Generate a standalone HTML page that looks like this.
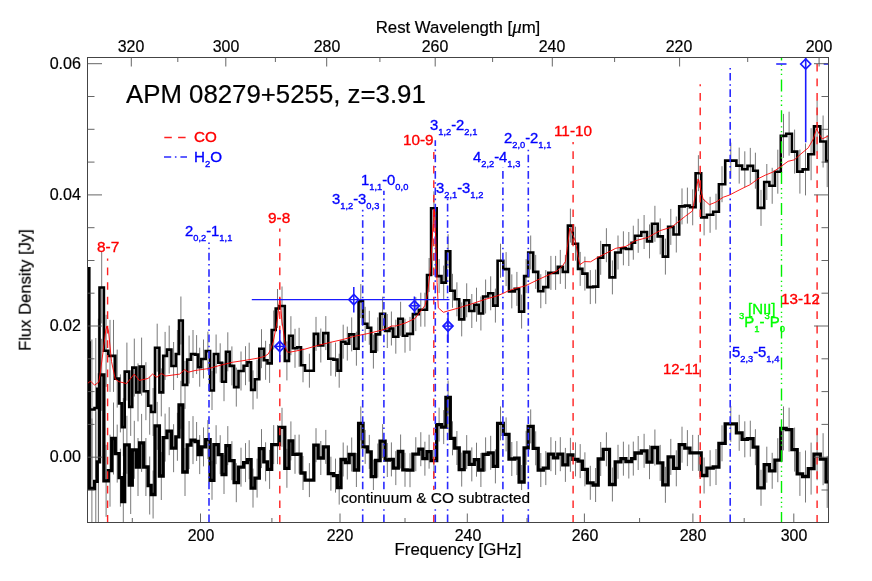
<!DOCTYPE html>
<html><head><meta charset="utf-8"><title>APM 08279+5255 spectrum</title>
<style>
html,body{margin:0;padding:0;background:#fff;}
body{width:872px;height:581px;position:relative;overflow:hidden;font-family:"Liberation Sans",sans-serif;}
.t{position:absolute;white-space:nowrap;line-height:1;font-family:"Liberation Sans",sans-serif;will-change:transform;}
.t sub{font-size:63%;vertical-align:baseline;position:relative;top:0.52em;}
.t sup{font-size:63%;vertical-align:baseline;position:relative;top:-0.9em;}
</style></head><body>
<svg width="872" height="581" viewBox="0 0 872 581" style="position:absolute;left:0;top:0">
<defs><clipPath id="cp"><rect x="87.5" y="57.5" width="741.0" height="465.0"/></clipPath></defs>
<rect x="0" y="0" width="872" height="581" fill="#fff"/>
<g clip-path="url(#cp)">
<path d="M91.9 339.5V479.5M95.8 338.0V478.0M98.4 318.7V458.7M101.7 251.5V323.5M106.1 314.8V386.8M110.0 319.9V391.9M113.5 319.9V391.9M117.2 349.6V407.6M120.4 374.4V432.4M123.3 398.1V456.1M126.9 342.6V400.6M130.7 377.9V435.9M134.3 338.6V396.6M138.0 363.4V421.4M141.6 337.6V395.6M145.9 362.2V420.2M149.7 376.7V434.7M153.1 388.0V436.0M157.2 323.7V371.7M161.3 368.4V416.4M165.1 331.9V379.9M169.2 325.6V373.6M173.6 342.0V390.0M177.4 330.0V378.0M180.9 296.5V344.5M185.0 360.9V408.9M189.1 335.6V383.6M193.0 330.0V378.0M196.6 335.1V374.1M199.7 347.7V386.7M203.5 339.5V378.5M207.9 331.6V370.6M212.0 371.0V410.0M216.1 334.5V373.5M220.2 343.3V382.3M224.0 362.2V401.2M227.8 332.3V371.3M231.9 346.4V385.4M236.3 367.6V406.6M241.0 351.5V390.5M245.5 346.2V385.2M249.2 342.7V381.7M253.0 370.4V409.4M257.1 359.7V398.7M261.5 329.2V368.2M265.6 340.8V379.8M269.6 343.9V382.9M273.7 310.5V349.5M277.5 289.0V328.0M282.0 286.5V325.5M286.9 341.4V380.4M290.9 316.2V355.2M295.0 328.8V367.8M299.1 327.8V366.8M303.0 348.3V382.3M309.4 353.7V387.7M316.0 316.9V350.9M320.8 328.5V362.5M325.8 316.1V350.1M330.9 341.8V375.8M335.5 342.6V376.6M339.2 353.7V387.7M343.2 324.7V358.7M347.3 326.6V360.6M351.7 317.4V351.4M356.4 331.7V365.7M360.8 284.1V318.1M365.2 306.8V340.8M369.3 310.8V344.8M373.4 334.6V368.6M377.8 317.4V351.4M382.6 296.7V330.7M387.3 314.0V348.0M391.4 311.5V345.5M395.8 319.7V353.7M400.6 301.8V335.8M405.0 318.7V352.7M410.0 316.9V350.9M415.8 297.1V331.1M420.8 292.7V326.7M424.9 292.7V326.7M429.1 258.0V292.0M433.9 191.3V225.3M439.1 259.1V293.1M443.7 265.6V299.6M448.1 234.2V268.2M452.5 273.8V307.8M456.9 282.3V316.3M461.7 302.4V336.4M466.7 283.3V317.3M471.8 294.0V328.0M476.5 287.7V321.7M480.9 296.5V330.5M485.6 279.5V313.5M490.7 276.3V310.3M495.4 288.6V322.6M500.5 243.7V277.7M506.1 252.1V286.1M511.8 274.4V308.4M516.9 271.9V305.9M521.6 294.6V328.6M526.1 259.1V293.1M530.7 235.5V269.5M535.7 254.9V288.9M540.8 274.2V308.2M545.8 270.1V304.1M550.9 255.9V289.9M555.6 255.9V289.9M560.3 249.9V283.9M565.4 254.9V288.9M570.4 208.6V242.6M575.5 226.7V260.7M580.2 251.9V285.9M584.9 256.6V290.6M590.3 270.1V304.1M595.6 269.6V303.6M600.7 240.8V274.8M606.4 228.2V262.2M612.4 260.4V294.4M618.0 235.5V269.5M623.4 231.3V265.3M628.8 232.0V266.0M633.3 225.7V259.7M638.2 218.8V252.8M644.1 215.0V249.0M649.5 224.4V258.4M654.9 205.8V241.8M660.2 218.4V254.4M665.4 238.6V274.6M670.8 208.9V244.9M676.3 216.5V252.5M682.0 188.4V224.4M687.4 187.6V223.6M692.7 189.3V225.3M698.4 155.2V191.2M704.1 199.4V235.4M710.1 196.8V232.8M716.0 193.7V229.7M722.0 166.2V202.2M730.8 142.6V178.6M739.2 147.6V183.6M744.8 151.3V187.3M750.3 147.9V183.9M755.4 152.7V188.7M761.0 189.9V225.9M766.8 164.0V200.0M772.2 167.8V203.8M777.8 149.7V193.7M783.5 113.9V157.9M789.1 111.7V155.7M794.6 129.6V173.6M799.9 149.6V193.6M805.5 143.4V195.4M811.1 128.2V180.2M817.1 100.4V152.4M823.1 115.5V167.5M827.2 135.1V187.1" stroke="#6a6a6a" stroke-width="0.9" fill="none"/>
<path d="M91.9 418.5V558.5M95.8 411.4V551.4M98.4 391.8V531.8M101.7 338.8V410.8M106.1 444.8V516.8M110.0 434.7V506.7M113.5 402.5V474.5M117.2 424.6V482.6M120.4 448.7V506.7M123.3 472.5V530.5M126.9 415.8V473.8M130.7 456.0V514.0M134.3 420.8V478.8M138.0 438.0V496.0M141.6 413.9V471.9M145.9 438.0V496.0M149.7 456.5V514.5M153.1 470.5V518.5M157.2 401.9V449.9M161.3 452.0V500.0M165.1 413.6V461.6M169.2 407.2V455.2M173.6 424.2V472.2M177.4 412.8V460.8M180.9 380.8V428.8M185.0 448.0V496.0M189.1 421.0V469.0M193.0 416.1V464.1M196.6 422.0V461.0M199.7 435.1V474.1M203.5 427.4V466.4M207.9 420.1V459.1M212.0 460.8V499.8M216.1 425.2V464.2M220.2 435.2V474.2M224.0 455.0V494.0M227.8 426.1V465.1M231.9 441.2V480.2M236.3 463.2V502.2M241.0 447.7V486.7M245.5 443.1V482.1M249.2 440.2V479.2M253.0 468.6V507.6M257.1 458.6V497.6M261.5 429.1V468.1M265.6 442.3V481.3M269.6 449.9V488.9M273.7 425.1V464.1M277.5 425.1V464.1M282.0 407.8V446.8M286.9 448.8V487.8M290.9 421.4V460.4M295.0 434.8V473.8M299.1 434.6V473.6M303.0 456.0V490.0M309.4 463.1V497.1M316.0 428.2V462.2M320.8 441.0V475.0M325.8 429.9V463.9M330.9 456.7V490.7M335.5 458.6V492.6M339.2 470.6V504.6M343.2 442.5V476.5M347.3 445.5V479.5M351.7 437.5V471.5M356.4 453.0V487.0M360.8 406.4V440.4M365.2 429.9V463.9M369.3 434.9V468.9M373.4 459.6V493.6M377.8 443.5V477.5M382.6 424.1V458.1M387.3 443.0V477.0M391.4 442.4V476.4M395.8 451.1V485.1M400.6 434.5V468.5M405.0 452.8V486.8M410.0 453.2V487.2M415.8 437.2V471.2M420.8 432.2V466.2M424.9 441.7V475.7M429.1 434.7V468.7M433.9 443.6V477.6M439.1 407.6V441.6M443.7 410.1V444.1M448.1 380.5V414.5M452.5 421.3V455.3M456.9 431.0V465.0M461.7 452.6V486.6M466.7 435.1V469.1M471.8 447.4V481.4M476.5 442.7V476.7M480.9 453.0V487.0M485.6 437.4V471.4M490.7 435.8V469.8M495.4 449.4V483.4M500.5 406.4V440.4M506.1 417.4V451.4M511.8 442.0V476.0M516.9 441.1V475.1M521.6 465.0V499.0M526.1 430.8V464.8M530.7 409.4V443.4M535.7 431.3V465.3M540.8 453.0V487.0M545.8 451.1V485.1M550.9 437.2V471.2M555.6 440.9V474.9M560.3 437.2V471.2M565.4 447.9V481.9M570.4 437.8V471.8M575.5 442.4V476.4M580.2 444.1V478.1M584.9 452.3V486.3M590.3 465.8V499.8M595.6 468.0V502.0M600.7 442.0V476.0M606.4 432.3V466.3M612.4 467.5V501.5M618.0 444.8V478.8M623.4 441.7V475.7M628.8 444.5V478.5M633.3 441.6V475.6M638.2 436.0V470.0M644.1 433.8V467.8M649.5 445.2V479.2M654.9 429.5V465.5M660.2 444.9V480.9M665.4 466.8V502.8M670.8 438.9V474.9M676.3 450.3V486.3M682.0 426.7V462.7M687.4 430.1V466.1M692.7 434.9V470.9M698.4 434.9V470.9M704.1 457.5V493.5M710.1 450.2V486.2M716.0 449.0V485.0M722.0 425.3V461.3M730.8 405.9V441.9M739.2 414.8V450.8M744.8 421.3V457.3M750.3 420.7V456.7M755.4 429.2V465.2M761.0 469.8V505.8M766.8 446.7V482.7M772.2 452.8V488.8M777.8 438.2V482.2M783.5 406.4V450.4M789.1 407.7V451.7M794.6 427.6V471.6M799.9 451.9V495.9M805.5 450.5V502.5M811.1 442.6V494.6M817.1 428.2V480.2M823.1 433.2V485.2M827.2 455.9V507.9" stroke="#6a6a6a" stroke-width="0.9" fill="none"/>
<path d="M87.5 268.2 L89.3 268.2 L89.3 409.5 L94.5 409.5 L94.5 408.0 L97.2 408.0 L97.2 388.7 L99.5 388.7 L99.5 287.5 L103.9 287.5 L103.9 350.8 L108.3 350.8 L108.3 355.9 L111.7 355.9 L111.7 355.9 L115.3 355.9 L115.3 378.6 L119.1 378.6 L119.1 403.4 L121.8 403.4 L121.8 427.1 L124.7 427.1 L124.7 371.6 L129.2 371.6 L129.2 406.9 L132.3 406.9 L132.3 367.6 L136.3 367.6 L136.3 392.4 L139.6 392.4 L139.6 366.6 L143.7 366.6 L143.7 391.2 L148.1 391.2 L148.1 405.7 L151.2 405.7 L151.2 412.0 L155.0 412.0 L155.0 347.7 L159.4 347.7 L159.4 392.4 L163.2 392.4 L163.2 355.9 L167.0 355.9 L167.0 349.6 L171.4 349.6 L171.4 366.0 L175.8 366.0 L175.8 354.0 L179.0 354.0 L179.0 320.5 L182.8 320.5 L182.8 384.9 L187.2 384.9 L187.2 359.6 L191.0 359.6 L191.0 354.0 L195.0 354.0 L195.0 354.6 L198.2 354.6 L198.2 367.2 L201.3 367.2 L201.3 359.0 L205.7 359.0 L205.7 351.1 L210.1 351.1 L210.1 390.5 L213.9 390.5 L213.9 354.0 L218.3 354.0 L218.3 362.8 L222.1 362.8 L222.1 381.7 L225.9 381.7 L225.9 351.8 L229.7 351.8 L229.7 365.9 L234.1 365.9 L234.1 387.1 L238.5 387.1 L238.5 371.0 L243.6 371.0 L243.6 365.7 L247.4 365.7 L247.4 362.2 L251.1 362.2 L251.1 389.9 L254.9 389.9 L254.9 379.2 L259.3 379.2 L259.3 348.7 L263.8 348.7 L263.8 360.3 L267.5 360.3 L267.5 363.4 L271.7 363.4 L271.7 330.0 L275.7 330.0 L275.7 308.5 L279.3 308.5 L279.3 306.0 L284.8 306.0 L284.8 360.9 L289.0 360.9 L289.0 335.7 L292.8 335.7 L292.8 348.3 L297.2 348.3 L297.2 347.3 L301.0 347.3 L301.0 365.3 L305.0 365.3 L305.0 370.7 L313.8 370.7 L313.8 333.9 L318.2 333.9 L318.2 345.5 L323.3 345.5 L323.3 333.1 L328.3 333.1 L328.3 358.8 L333.4 358.8 L333.4 359.6 L337.5 359.6 L337.5 370.7 L341.0 370.7 L341.0 341.7 L345.4 341.7 L345.4 343.6 L349.2 343.6 L349.2 334.4 L354.2 334.4 L354.2 348.7 L358.6 348.7 L358.6 301.1 L363.0 301.1 L363.0 323.8 L367.4 323.8 L367.4 327.8 L371.2 327.8 L371.2 351.6 L375.6 351.6 L375.6 334.4 L380.1 334.4 L380.1 313.7 L385.1 313.7 L385.1 331.0 L389.5 331.0 L389.5 328.5 L393.3 328.5 L393.3 336.7 L398.3 336.7 L398.3 318.8 L402.8 318.8 L402.8 335.7 L407.2 335.7 L407.2 333.9 L412.9 333.9 L412.9 314.1 L418.8 314.1 L418.8 309.7 L422.8 309.7 L422.8 309.7 L427.0 309.7 L427.0 275.0 L431.1 275.0 L431.1 208.3 L436.7 208.3 L436.7 276.1 L441.5 276.1 L441.5 282.6 L445.9 282.6 L445.9 251.2 L450.3 251.2 L450.3 290.8 L454.7 290.8 L454.7 299.3 L459.2 299.3 L459.2 319.4 L464.2 319.4 L464.2 300.3 L469.2 300.3 L469.2 311.0 L474.3 311.0 L474.3 304.7 L478.7 304.7 L478.7 313.5 L483.1 313.5 L483.1 296.5 L488.2 296.5 L488.2 293.3 L493.2 293.3 L493.2 305.6 L497.6 305.6 L497.6 260.7 L503.3 260.7 L503.3 269.1 L509.0 269.1 L509.0 291.4 L514.7 291.4 L514.7 288.9 L519.1 288.9 L519.1 311.6 L524.1 311.6 L524.1 276.1 L528.2 276.1 L528.2 252.5 L533.2 252.5 L533.2 271.9 L538.2 271.9 L538.2 291.2 L543.3 291.2 L543.3 287.1 L548.3 287.1 L548.3 272.9 L553.4 272.9 L553.4 272.9 L557.8 272.9 L557.8 266.9 L562.8 266.9 L562.8 271.9 L567.9 271.9 L567.9 225.6 L572.9 225.6 L572.9 243.7 L578.0 243.7 L578.0 268.9 L582.4 268.9 L582.4 273.6 L587.4 273.6 L587.4 287.1 L593.1 287.1 L593.1 286.6 L598.2 286.6 L598.2 257.8 L603.2 257.8 L603.2 245.2 L609.5 245.2 L609.5 277.4 L615.2 277.4 L615.2 252.5 L620.9 252.5 L620.9 248.3 L625.9 248.3 L625.9 249.0 L631.6 249.0 L631.6 242.7 L635.0 242.7 L635.0 235.8 L641.3 235.8 L641.3 232.0 L647.0 232.0 L647.0 241.4 L652.0 241.4 L652.0 223.8 L657.7 223.8 L657.7 236.4 L662.8 236.4 L662.8 256.6 L668.1 256.6 L668.1 226.9 L673.5 226.9 L673.5 234.5 L679.2 234.5 L679.2 206.4 L684.8 206.4 L684.8 205.6 L689.9 205.6 L689.9 207.3 L695.6 207.3 L695.6 173.2 L701.2 173.2 L701.2 217.4 L706.9 217.4 L706.9 214.8 L713.2 214.8 L713.2 211.7 L718.9 211.7 L718.9 184.2 L725.2 184.2 L725.2 160.6 L736.4 160.6 L736.4 165.6 L742.1 165.6 L742.1 169.3 L747.5 169.3 L747.5 165.9 L753.1 165.9 L753.1 170.7 L757.8 170.7 L757.8 207.9 L764.2 207.9 L764.2 182.0 L769.4 182.0 L769.4 185.8 L774.9 185.8 L774.9 171.7 L780.8 171.7 L780.8 135.9 L786.2 135.9 L786.2 133.7 L791.9 133.7 L791.9 151.6 L797.2 151.6 L797.2 171.6 L802.6 171.6 L802.6 169.4 L808.3 169.4 L808.3 154.2 L814.0 154.2 L814.0 126.4 L820.3 126.4 L820.3 141.5 L826.0 141.5 L826.0 161.1 L828.5 161.1" stroke="#000" stroke-width="2.6" fill="none" stroke-linejoin="miter"/>
<path d="M87.5 343.0 L89.3 343.0 L89.3 488.5 L94.5 488.5 L94.5 481.4 L97.2 481.4 L97.2 461.8 L99.5 461.8 L99.5 374.8 L103.9 374.8 L103.9 480.8 L108.3 480.8 L108.3 470.7 L111.7 470.7 L111.7 438.5 L115.3 438.5 L115.3 453.6 L119.1 453.6 L119.1 477.7 L121.8 477.7 L121.8 501.5 L124.7 501.5 L124.7 444.8 L129.2 444.8 L129.2 485.0 L132.3 485.0 L132.3 449.8 L136.3 449.8 L136.3 467.0 L139.6 467.0 L139.6 442.9 L143.7 442.9 L143.7 467.0 L148.1 467.0 L148.1 485.5 L151.2 485.5 L151.2 494.5 L155.0 494.5 L155.0 425.9 L159.4 425.9 L159.4 476.0 L163.2 476.0 L163.2 437.6 L167.0 437.6 L167.0 431.2 L171.4 431.2 L171.4 448.2 L175.8 448.2 L175.8 436.8 L179.0 436.8 L179.0 404.8 L182.8 404.8 L182.8 472.0 L187.2 472.0 L187.2 445.0 L191.0 445.0 L191.0 440.1 L195.0 440.1 L195.0 441.5 L198.2 441.5 L198.2 454.6 L201.3 454.6 L201.3 446.9 L205.7 446.9 L205.7 439.6 L210.1 439.6 L210.1 480.3 L213.9 480.3 L213.9 444.7 L218.3 444.7 L218.3 454.7 L222.1 454.7 L222.1 474.5 L225.9 474.5 L225.9 445.6 L229.7 445.6 L229.7 460.7 L234.1 460.7 L234.1 482.7 L238.5 482.7 L238.5 467.2 L243.6 467.2 L243.6 462.6 L247.4 462.6 L247.4 459.7 L251.1 459.7 L251.1 488.1 L254.9 488.1 L254.9 478.1 L259.3 478.1 L259.3 448.6 L263.8 448.6 L263.8 461.8 L267.5 461.8 L267.5 469.4 L271.7 469.4 L271.7 444.6 L275.7 444.6 L275.7 444.6 L279.3 444.6 L279.3 427.3 L284.8 427.3 L284.8 468.3 L289.0 468.3 L289.0 440.9 L292.8 440.9 L292.8 454.3 L297.2 454.3 L297.2 454.1 L301.0 454.1 L301.0 473.0 L305.0 473.0 L305.0 480.1 L313.8 480.1 L313.8 445.2 L318.2 445.2 L318.2 458.0 L323.3 458.0 L323.3 446.9 L328.3 446.9 L328.3 473.7 L333.4 473.7 L333.4 475.6 L337.5 475.6 L337.5 487.6 L341.0 487.6 L341.0 459.5 L345.4 459.5 L345.4 462.5 L349.2 462.5 L349.2 454.5 L354.2 454.5 L354.2 470.0 L358.6 470.0 L358.6 423.4 L363.0 423.4 L363.0 446.9 L367.4 446.9 L367.4 451.9 L371.2 451.9 L371.2 476.6 L375.6 476.6 L375.6 460.5 L380.1 460.5 L380.1 441.1 L385.1 441.1 L385.1 460.0 L389.5 460.0 L389.5 459.4 L393.3 459.4 L393.3 468.1 L398.3 468.1 L398.3 451.5 L402.8 451.5 L402.8 469.8 L407.2 469.8 L407.2 470.2 L412.9 470.2 L412.9 454.2 L418.8 454.2 L418.8 449.2 L422.8 449.2 L422.8 458.7 L427.0 458.7 L427.0 451.7 L431.1 451.7 L431.1 460.6 L436.7 460.6 L436.7 424.6 L441.5 424.6 L441.5 427.1 L445.9 427.1 L445.9 397.5 L450.3 397.5 L450.3 438.3 L454.7 438.3 L454.7 448.0 L459.2 448.0 L459.2 469.6 L464.2 469.6 L464.2 452.1 L469.2 452.1 L469.2 464.4 L474.3 464.4 L474.3 459.7 L478.7 459.7 L478.7 470.0 L483.1 470.0 L483.1 454.4 L488.2 454.4 L488.2 452.8 L493.2 452.8 L493.2 466.4 L497.6 466.4 L497.6 423.4 L503.3 423.4 L503.3 434.4 L509.0 434.4 L509.0 459.0 L514.7 459.0 L514.7 458.1 L519.1 458.1 L519.1 482.0 L524.1 482.0 L524.1 447.8 L528.2 447.8 L528.2 426.4 L533.2 426.4 L533.2 448.3 L538.2 448.3 L538.2 470.0 L543.3 470.0 L543.3 468.1 L548.3 468.1 L548.3 454.2 L553.4 454.2 L553.4 457.9 L557.8 457.9 L557.8 454.2 L562.8 454.2 L562.8 464.9 L567.9 464.9 L567.9 454.8 L572.9 454.8 L572.9 459.4 L578.0 459.4 L578.0 461.1 L582.4 461.1 L582.4 469.3 L587.4 469.3 L587.4 482.8 L593.1 482.8 L593.1 485.0 L598.2 485.0 L598.2 459.0 L603.2 459.0 L603.2 449.3 L609.5 449.3 L609.5 484.5 L615.2 484.5 L615.2 461.8 L620.9 461.8 L620.9 458.7 L625.9 458.7 L625.9 461.5 L631.6 461.5 L631.6 458.6 L635.0 458.6 L635.0 453.0 L641.3 453.0 L641.3 450.8 L647.0 450.8 L647.0 462.2 L652.0 462.2 L652.0 447.5 L657.7 447.5 L657.7 462.9 L662.8 462.9 L662.8 484.8 L668.1 484.8 L668.1 456.9 L673.5 456.9 L673.5 468.3 L679.2 468.3 L679.2 444.7 L684.8 444.7 L684.8 448.1 L689.9 448.1 L689.9 452.9 L695.6 452.9 L695.6 452.9 L701.2 452.9 L701.2 475.5 L706.9 475.5 L706.9 468.2 L713.2 468.2 L713.2 467.0 L718.9 467.0 L718.9 443.3 L725.2 443.3 L725.2 423.9 L736.4 423.9 L736.4 432.8 L742.1 432.8 L742.1 439.3 L747.5 439.3 L747.5 438.7 L753.1 438.7 L753.1 447.2 L757.8 447.2 L757.8 487.8 L764.2 487.8 L764.2 464.7 L769.4 464.7 L769.4 470.8 L774.9 470.8 L774.9 460.2 L780.8 460.2 L780.8 428.4 L786.2 428.4 L786.2 429.7 L791.9 429.7 L791.9 449.6 L797.2 449.6 L797.2 473.9 L802.6 473.9 L802.6 476.5 L808.3 476.5 L808.3 468.6 L814.0 468.6 L814.0 454.2 L820.3 454.2 L820.3 459.2 L826.0 459.2 L826.0 481.9 L828.5 481.9" stroke="#000" stroke-width="3.3" fill="none" stroke-linejoin="miter"/>
</g>
<line x1="107.6" y1="258.5" x2="107.6" y2="522.5" stroke="#ff2020" stroke-width="1.4" stroke-dasharray="7.7 6.85" stroke-dashoffset="5.45"/>
<line x1="279.8" y1="228.5" x2="279.8" y2="522.5" stroke="#ff2020" stroke-width="1.4" stroke-dasharray="7.7 6.85" stroke-dashoffset="4.55"/>
<line x1="433.8" y1="152.0" x2="433.8" y2="522.5" stroke="#ff2020" stroke-width="1.4" stroke-dasharray="7.7 6.85" stroke-dashoffset="0.80"/>
<line x1="573.1" y1="142.0" x2="573.1" y2="522.5" stroke="#ff2020" stroke-width="1.4" stroke-dasharray="7.7 6.85" stroke-dashoffset="5.35"/>
<line x1="700.2" y1="84.2" x2="700.2" y2="522.5" stroke="#ff2020" stroke-width="1.4" stroke-dasharray="7.7 6.85" stroke-dashoffset="5.75"/>
<line x1="817.1" y1="63.0" x2="817.1" y2="522.5" stroke="#ff2020" stroke-width="1.4" stroke-dasharray="7.7 6.85" stroke-dashoffset="13.65"/>
<line x1="209.0" y1="242.4" x2="209.0" y2="522.5" stroke="#2a2aff" stroke-width="1.6" stroke-dasharray="7.6 3.55 1.6 3.6" stroke-dashoffset="5.90"/>
<line x1="362.7" y1="209.8" x2="362.7" y2="522.5" stroke="#2a2aff" stroke-width="1.6" stroke-dasharray="7.6 3.55 1.6 3.6" stroke-dashoffset="6.00"/>
<line x1="383.9" y1="190.8" x2="383.9" y2="522.5" stroke="#2a2aff" stroke-width="1.6" stroke-dasharray="7.6 3.55 1.6 3.6" stroke-dashoffset="3.35"/>
<line x1="435.3" y1="140.3" x2="435.3" y2="522.5" stroke="#2a2aff" stroke-width="1.6" stroke-dasharray="7.6 3.55 1.6 3.6" stroke-dashoffset="1.90"/>
<line x1="447.6" y1="198.6" x2="447.6" y2="522.5" stroke="#2a2aff" stroke-width="1.6" stroke-dasharray="7.6 3.55 1.6 3.6" stroke-dashoffset="11.15"/>
<line x1="502.9" y1="167.2" x2="502.9" y2="522.5" stroke="#2a2aff" stroke-width="1.6" stroke-dasharray="7.6 3.55 1.6 3.6" stroke-dashoffset="12.45"/>
<line x1="528.3" y1="149.7" x2="528.3" y2="522.5" stroke="#2a2aff" stroke-width="1.6" stroke-dasharray="7.6 3.55 1.6 3.6" stroke-dashoffset="11.30"/>
<line x1="730.2" y1="68.0" x2="730.2" y2="522.5" stroke="#2a2aff" stroke-width="1.6" stroke-dasharray="7.6 3.55 1.6 3.6" stroke-dashoffset="11.35"/>
<line x1="781.5" y1="58.0" x2="781.5" y2="522.5" stroke="#00f000" stroke-width="1.4" stroke-dasharray="12 4 1.3 3.3 1.3 3.3 1.3 4.4" stroke-dashoffset="9.50"/>
<line x1="164.3" y1="137.5" x2="188" y2="137.5" stroke="#ff2020" stroke-width="1.5" stroke-dasharray="7.5 6.3"/>
<line x1="164" y1="157" x2="187" y2="157" stroke="#2a2aff" stroke-width="1.6" stroke-dasharray="7.2 3.7 1.6 3.9"/>
<g clip-path="url(#cp)">
<polyline points="87.5,383.5 90.5,381.1 94.6,385.2 98.8,382.0 100.1,374.1 103.0,352.0 105.8,330.0 107.0,326.0 108.5,331.0 111.5,361.5 115.3,379.2 119.0,381.7 126.6,383.6 134.2,374.1 139.2,380.4 148.0,378.5 152.5,374.1 156.9,377.3 161.3,373.5 165.7,376.0 179.6,374.1 184.7,369.7 188.4,372.2 195.0,370.5 208.9,368.5 220.2,365.3 232.8,362.2 245.5,360.3 258.1,358.1 264.4,356.5 268.2,354.0 270.7,349.5 273.2,342.0 275.7,329.4 277.6,318.0 279.8,297.8 282.0,321.8 283.3,330.6 284.6,340.7 285.8,348.3 287.1,351.8 289.0,352.3 295.9,351.0 305.0,349.1 317.6,345.5 330.2,342.4 342.8,339.5 355.5,336.0 368.1,333.5 380.7,330.4 387.0,328.5 391.4,326.0 395.8,326.0 405.9,322.8 415.0,318.5 421.3,310.4 425.1,305.3 427.6,292.7 430.1,272.5 432.5,234.0 434.3,209.0 435.8,240.0 437.1,282.6 438.3,307.8 443.4,312.3 447.8,311.0 459.2,307.8 471.8,303.8 484.4,299.6 497.0,295.9 503.3,293.3 508.3,290.8 515.9,288.3 525.0,286.0 537.6,279.9 550.2,274.2 557.8,270.4 562.8,265.4 565.4,261.6 567.3,247.7 569.8,228.2 572.9,235.1 575.5,241.4 578.0,256.5 579.9,264.7 584.3,261.6 590.6,261.8 598.2,257.2 607.0,252.8 615.8,248.3 625.9,246.4 635.0,240.8 647.6,237.5 660.2,230.6 671.6,227.1 679.2,221.1 685.5,216.1 692.4,211.0 695.5,194.0 698.1,178.9 700.6,189.0 703.1,199.1 709.4,204.7 715.7,202.2 723.3,197.2 729.6,195.0 735.9,191.7 745.0,187.1 750.3,184.6 757.8,178.9 765.4,175.1 773.0,172.0 781.2,166.3 788.1,161.3 794.4,159.8 800.7,154.1 808.3,147.8 813.3,139.0 816.5,128.9 819.6,134.6 822.2,139.0 829.0,135.5" stroke="#f00" stroke-width="0.9" fill="none"/>
</g>
<line x1="251.8" y1="299.6" x2="449.5" y2="299.6" stroke="#1a1aff" stroke-width="1.4"/>
<line x1="353.8" y1="287.0" x2="353.8" y2="312.5" stroke="#1a1aff" stroke-width="1.5"/>
<path d="M348.8 299.6L353.8 294.5L358.8 299.6L353.8 304.7Z" stroke="#1a1aff" stroke-width="1.7" fill="none"/>
<line x1="410.5" y1="305.8" x2="419.5" y2="305.8" stroke="#1a1aff" stroke-width="1.5"/>
<line x1="414.4" y1="296.5" x2="414.4" y2="313.5" stroke="#1a1aff" stroke-width="1.5"/>
<path d="M409.4 305.8L414.4 300.7L419.4 305.8L414.4 310.9Z" stroke="#1a1aff" stroke-width="1.7" fill="none"/>
<line x1="279.8" y1="330.0" x2="279.8" y2="362.0" stroke="#1a1aff" stroke-width="1.5"/>
<line x1="275.0" y1="346.4" x2="284.5" y2="346.4" stroke="#1a1aff" stroke-width="1.5"/>
<path d="M274.8 346.4L279.8 341.3L284.8 346.4L279.8 351.5Z" stroke="#1a1aff" stroke-width="1.7" fill="none"/>
<line x1="448.0" y1="312.0" x2="448.0" y2="343.0" stroke="#1a1aff" stroke-width="1.5"/>
<line x1="443.0" y1="326.1" x2="453.0" y2="326.1" stroke="#1a1aff" stroke-width="1.5"/>
<path d="M443.0 326.1L448.0 321.0L453.0 326.1L448.0 331.2Z" stroke="#1a1aff" stroke-width="1.7" fill="none"/>
<line x1="805.7" y1="57.5" x2="805.7" y2="142.3" stroke="#1a1aff" stroke-width="1.6"/>
<line x1="776.2" y1="64.0" x2="786.5" y2="64.0" stroke="#1a1aff" stroke-width="1.5"/>
<line x1="823.7" y1="64.0" x2="829.0" y2="64.0" stroke="#1a1aff" stroke-width="1.5"/>
<path d="M800.7 64.0L805.7 58.9L810.7 64.0L805.7 69.1Z" stroke="#1a1aff" stroke-width="1.7" fill="none"/>
<rect x="87.5" y="57.5" width="741.0" height="465.0" fill="none" stroke="#444" stroke-width="1"/>
<path d="M132.3 522.5v-4.5M200.5 522.5v-9.0M271.9 522.5v-4.5M340.0 522.5v-9.0M405.0 522.5v-4.5M467.3 522.5v-9.0M527.0 522.5v-4.5M584.4 522.5v-9.0M639.6 522.5v-4.5M692.9 522.5v-9.0M744.2 522.5v-4.5M793.8 522.5v-9.0M819.1 57.5v9.0M747.7 57.5v4.5M679.6 57.5v9.0M614.6 57.5v4.5M552.3 57.5v9.0M492.6 57.5v4.5M435.2 57.5v9.0M379.9 57.5v4.5M326.7 57.5v9.0M275.4 57.5v4.5M225.8 57.5v9.0M177.8 57.5v4.5M131.3 57.5v9.0M87.5 490.0h7.0M828.5 490.0h-7.0M87.5 457.2h14.5M828.5 457.2h-14.5M87.5 424.4h7.0M828.5 424.4h-7.0M87.5 391.6h7.0M828.5 391.6h-7.0M87.5 358.8h7.0M828.5 358.8h-7.0M87.5 326.0h14.5M828.5 326.0h-14.5M87.5 293.2h7.0M828.5 293.2h-7.0M87.5 260.5h7.0M828.5 260.5h-7.0M87.5 227.7h7.0M828.5 227.7h-7.0M87.5 194.9h14.5M828.5 194.9h-14.5M87.5 162.1h7.0M828.5 162.1h-7.0M87.5 129.3h7.0M828.5 129.3h-7.0M87.5 96.5h7.0M828.5 96.5h-7.0M87.5 63.7h14.5M828.5 63.7h-14.5" stroke="#555" stroke-width="0.9" fill="none"/>
</svg>
<div class="t" style="left:200.8px;top:527.9px;font-size:15.9px;color:#000;-webkit-text-stroke:0.20px #000;transform:translateX(-50%);">200</div>
<div class="t" style="left:340.3px;top:527.9px;font-size:15.9px;color:#000;-webkit-text-stroke:0.20px #000;transform:translateX(-50%);">220</div>
<div class="t" style="left:467.6px;top:527.9px;font-size:15.9px;color:#000;-webkit-text-stroke:0.20px #000;transform:translateX(-50%);">240</div>
<div class="t" style="left:584.7px;top:527.9px;font-size:15.9px;color:#000;-webkit-text-stroke:0.20px #000;transform:translateX(-50%);">260</div>
<div class="t" style="left:693.2px;top:527.9px;font-size:15.9px;color:#000;-webkit-text-stroke:0.20px #000;transform:translateX(-50%);">280</div>
<div class="t" style="left:794.1px;top:527.9px;font-size:15.9px;color:#000;-webkit-text-stroke:0.20px #000;transform:translateX(-50%);">300</div>
<div class="t" style="left:818.9px;top:38.9px;font-size:15.9px;color:#000;-webkit-text-stroke:0.20px #000;transform:translateX(-50%);">200</div>
<div class="t" style="left:679.4px;top:38.9px;font-size:15.9px;color:#000;-webkit-text-stroke:0.20px #000;transform:translateX(-50%);">220</div>
<div class="t" style="left:552.1px;top:38.9px;font-size:15.9px;color:#000;-webkit-text-stroke:0.20px #000;transform:translateX(-50%);">240</div>
<div class="t" style="left:435.0px;top:38.9px;font-size:15.9px;color:#000;-webkit-text-stroke:0.20px #000;transform:translateX(-50%);">260</div>
<div class="t" style="left:326.5px;top:38.9px;font-size:15.9px;color:#000;-webkit-text-stroke:0.20px #000;transform:translateX(-50%);">280</div>
<div class="t" style="left:225.6px;top:38.9px;font-size:15.9px;color:#000;-webkit-text-stroke:0.20px #000;transform:translateX(-50%);">300</div>
<div class="t" style="left:131.1px;top:38.9px;font-size:15.9px;color:#000;-webkit-text-stroke:0.20px #000;transform:translateX(-50%);">320</div>
<div class="t" style="left:81.4px;top:448.0px;font-size:16.1px;color:#000;-webkit-text-stroke:0.20px #000;transform:translateX(-100%);">0.00</div>
<div class="t" style="left:81.4px;top:316.8px;font-size:16.1px;color:#000;-webkit-text-stroke:0.20px #000;transform:translateX(-100%);">0.02</div>
<div class="t" style="left:81.4px;top:185.7px;font-size:16.1px;color:#000;-webkit-text-stroke:0.20px #000;transform:translateX(-100%);">0.04</div>
<div class="t" style="left:81.4px;top:54.5px;font-size:16.1px;color:#000;-webkit-text-stroke:0.20px #000;transform:translateX(-100%);">0.06</div>
<div class="t" style="left:457.9px;top:541.7px;font-size:16.8px;color:#000;-webkit-text-stroke:0.20px #000;transform:translateX(-50%);">Frequency [GHz]</div>
<div class="t" style="left:457.7px;top:17.5px;font-size:16.8px;color:#000;-webkit-text-stroke:0.20px #000;transform:translateX(-50%);">Rest Wavelength [<i style="font-family:'Liberation Serif',serif;font-size:112%">&mu;</i>m]</div>
<div class="t" style="left:26.4px;top:290.4px;font-size:16.6px;-webkit-text-stroke:0.2px #000;transform:translate(-50%,-50%) rotate(-90deg);">Flux Density [Jy]</div>
<div class="t" style="left:126.0px;top:82.2px;font-size:25.8px;color:#000;-webkit-text-stroke:0.20px #000;">APM 08279+5255, z=3.91</div>
<div class="t" style="left:193.8px;top:129.4px;font-size:15.2px;color:#f00;-webkit-text-stroke:0.35px #f00;">CO</div>
<div class="t" style="left:193.6px;top:149.3px;font-size:15.2px;color:#00f;-webkit-text-stroke:0.35px #00f;">H<sub>2</sub>O</div>
<div class="t" style="left:340.6px;top:490.2px;font-size:15.4px;color:#000;-webkit-text-stroke:0.20px #000;background:#fff;padding:0 2px 3px 1px;margin-left:-1px;">continuum &amp; CO subtracted</div>
<div class="t" style="left:96.9px;top:239.3px;font-size:15.4px;color:#f00;-webkit-text-stroke:0.35px #f00;">8-7</div>
<div class="t" style="left:268.4px;top:209.8px;font-size:15.4px;color:#f00;-webkit-text-stroke:0.35px #f00;">9-8</div>
<div class="t" style="left:402.6px;top:132.0px;font-size:15.3px;color:#f00;-webkit-text-stroke:0.35px #f00;">10-9</div>
<div class="t" style="left:554.0px;top:123.2px;font-size:15.3px;color:#f00;-webkit-text-stroke:0.35px #f00;">11-10</div>
<div class="t" style="left:663.2px;top:361.7px;font-size:14.9px;color:#f00;-webkit-text-stroke:0.35px #f00;">12-11</div>
<div class="t" style="left:780.8px;top:291.4px;font-size:15.2px;color:#f00;-webkit-text-stroke:0.35px #f00;">13-12</div>
<div class="t" style="left:184.8px;top:223.9px;font-size:14.8px;color:#00f;-webkit-text-stroke:0.35px #00f;">2<sub>0,2</sub>-1<sub>1,1</sub></div>
<div class="t" style="left:331.7px;top:191.6px;font-size:14.8px;color:#00f;-webkit-text-stroke:0.35px #00f;">3<sub>1,2</sub>-3<sub>0,3</sub></div>
<div class="t" style="left:361.0px;top:172.5px;font-size:14.8px;color:#00f;-webkit-text-stroke:0.35px #00f;">1<sub>1,1</sub>-0<sub>0,0</sub></div>
<div class="t" style="left:429.8px;top:118.3px;font-size:14.8px;color:#00f;-webkit-text-stroke:0.35px #00f;">3<sub>1,2</sub>-2<sub>2,1</sub></div>
<div class="t" style="left:436.0px;top:181.1px;font-size:14.8px;color:#00f;-webkit-text-stroke:0.35px #00f;">3<sub>2,1</sub>-3<sub>1,2</sub></div>
<div class="t" style="left:473.0px;top:150.1px;font-size:14.8px;color:#00f;-webkit-text-stroke:0.35px #00f;">4<sub>2,2</sub>-4<sub>1,3</sub></div>
<div class="t" style="left:504.0px;top:131.2px;font-size:14.8px;color:#00f;-webkit-text-stroke:0.35px #00f;">2<sub>2,0</sub>-2<sub>1,1</sub></div>
<div class="t" style="left:731.6px;top:345.1px;font-size:14.8px;color:#00f;-webkit-text-stroke:0.35px #00f;">5<sub>2,3</sub>-5<sub>1,4</sub></div>
<div class="t" style="left:748.0px;top:300.5px;font-size:15.0px;color:#0f0;-webkit-text-stroke:0.35px #0f0;">[NII]</div>
<div class="t" style="left:739.3px;top:314.3px;font-size:15.0px;color:#0f0;-webkit-text-stroke:0.35px #0f0;"><sup>3</sup>P<sub>1</sub>-<sup>3</sup>P<sub>0</sub></div>
</body></html>
